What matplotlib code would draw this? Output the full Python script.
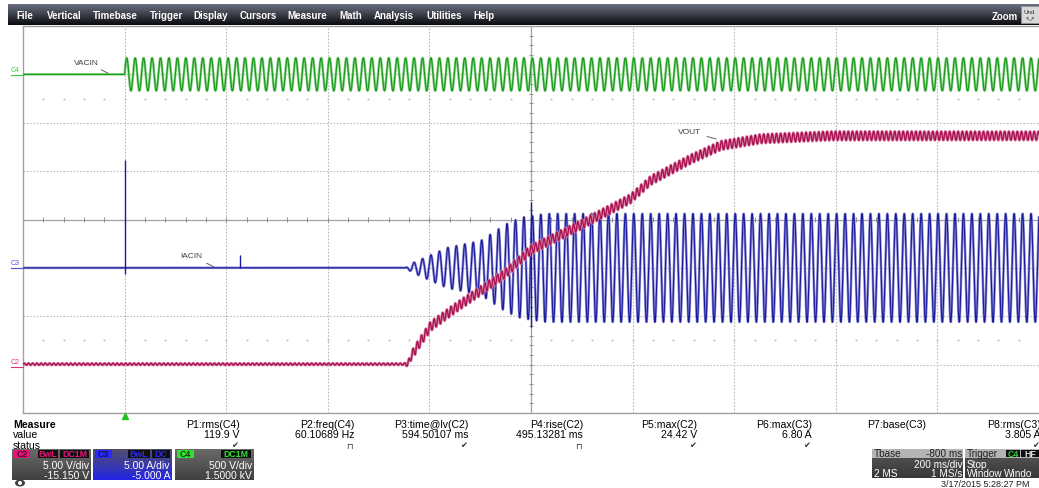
import numpy as np
import matplotlib.pyplot as plt
from matplotlib.colors import LinearSegmentedColormap
from matplotlib.patches import Rectangle, Ellipse

plt.rcParams['font.family'] = ['Liberation Sans', 'DejaVu Sans']

W, H = 1039, 489

# channel setup
c2_vdiv, c2_off = 5.0, -15.15      # VOUT  (V)
c3_vdiv, c3_off = 5.0, -5.0        # IACIN (A)
c4_vdiv, c4_off = 500.0, 1500.0    # VACIN (V)
line_freq = 60.10689               # Hz, P2
vac_rms = 119.9                    # V, P1

# VOUT mean level (s, V), estimated from the trace
vout_t = [-0.2, 0.557, 0.567, 0.602, 0.651, 0.701, 0.750, 0.799, 0.898, 0.996, 1.036, 1.115, 1.174, 1.253, 1.391, 1.8]
vout_v = [0.2, 0.2, 1.3, 4.1, 6.0, 7.8, 9.6, 12.0, 14.6, 17.3, 19.2, 21.4, 22.8, 23.5, 23.8, 23.8]
# VOUT 120 Hz ripple (s, V peak)
rip_t = [-0.2, 0.55, 0.57, 1.8]
rip_v = [0.1, 0.1, 0.5, 0.45]

# IACIN peak envelope (s, A)
iac_t = [-0.2, 0.553, 0.567, 0.636, 0.701, 0.750, 0.780, 0.829, 1.8]
iac_a = [0.0, 0.0, 0.5, 2.1, 2.8, 4.5, 5.2, 5.6, 5.6]
# IACIN spikes (s, low A, high A)
spike_t = [0.0, 0.228, 0.8]
spike_lo = [-0.6, 0.0, -6.1]
spike_hi = [11.2, 1.3, 6.8]

menu_items = ['File', 'Vertical', 'Timebase', 'Trigger', 'Display', 'Cursors',
              'Measure', 'Math', 'Analysis', 'Utilities', 'Help']
menu_x = [16, 47, 93, 150, 193, 240, 287, 339, 374, 426, 473]

meas_names = ['P1:rms(C4)', 'P2:freq(C4)', 'P3:time@lv(C2)', 'P4:rise(C2)',
              'P5:max(C2)', 'P6:max(C3)', 'P7:base(C3)', 'P8:rms(C3)']
meas_vals = ['119.9 V', '60.10689 Hz', '594.50107 ms', '495.13281 ms',
             '24.42 V', '6.80 A', '', '3.805 A']
meas_stat = ['ok', 'pulse', 'ok', 'pulse', 'ok', 'ok', '', 'ok']

# colours
GREEN, GREEN_L = '#159a15', '#86d086'
BLUE, BLUE_L = '#1a1aa0', '#8a8ad0'
RED, RED_L = '#a8104e', '#d880a8'


def fx(x):
    return x / W


def fy(y):
    return 1 - y / H


fig = plt.figure(figsize=(W / 100, H / 100), dpi=100)
fig.patch.set_facecolor('white')

# ---- scope grid ----
ax = fig.add_axes([fx(23), fy(414), fx(1039) - fx(23), fy(27) - fy(414)])
ax.set_xlim(-0.2, 1.8)
ax.set_ylim(-4, 4)
ax.set_xticks([])
ax.set_yticks([])
for s in ['left', 'top', 'bottom']:
    ax.spines[s].set_color('#a0a0a0')
    ax.spines[s].set_linewidth(1.0)
ax.spines['right'].set_visible(False)

gx = np.arange(-0.2, 1.81, 0.2)
for x in gx[1:-1]:
    if abs(x - 0.8) < 1e-6:
        ax.axvline(x, color='#a0a0a0', lw=0.9, zorder=1)
    else:
        ax.axvline(x, color='#b8b8b8', lw=0.8, ls=(0, (1.5, 1.5)), zorder=1)
for y in range(-3, 4):
    if y == 0:
        ax.axhline(y, color='#a0a0a0', lw=0.9, zorder=1)
    else:
        ax.axhline(y, color='#c0c0c0', lw=0.8, ls=(0, (1.5, 1.5)), zorder=1)
# minor ticks on the centre cross
mt = np.arange(-0.2, 1.8001, 0.04)
ax.vlines(mt, -0.06, 0.06, color='#909090', lw=0.7, zorder=1)
my = np.arange(-4, 4.001, 0.2)
ax.hlines(my, 0.8 - 0.004, 0.8 + 0.004, color='#909090', lw=0.7, zorder=1)
# sparse dot rows
for yy in [2.5, -2.5]:
    ax.plot(mt[1:-1], np.full(len(mt) - 2, yy), ls='none', marker='s', ms=0.5,
            color='#c4c4c4', zorder=1)

# ---- traces ----
t = np.linspace(-0.2, 1.8, 60001)
ph = 2 * np.pi * line_freq * t

vac = np.where(t >= 0, np.sqrt(2) * vac_rms * np.sin(ph), 0.0)
y4 = (vac + c4_off) / c4_vdiv
ax.plot(t, y4, color=GREEN_L, lw=1.8, zorder=3)
ax.plot(t, y4, color=GREEN, lw=0.8, zorder=3)

iac = np.interp(t, iac_t, iac_a) * np.sin(ph)
y3 = (iac + c3_off) / c3_vdiv
ax.plot(t, y3, color=BLUE_L, lw=1.8, zorder=4)
ax.plot(t, y3, color=BLUE, lw=0.8, zorder=4)
ax.vlines(spike_t, (np.array(spike_lo) + c3_off) / c3_vdiv,
          (np.array(spike_hi) + c3_off) / c3_vdiv, color=BLUE, lw=1.0, zorder=4)

vout = np.interp(t, vout_t, vout_v) + np.interp(t, rip_t, rip_v) * np.sin(2 * ph)
y2 = (vout + c2_off) / c2_vdiv
ax.plot(t, y2, color=RED_L, lw=2.0, zorder=5)
ax.plot(t, y2, color=RED, lw=0.9, zorder=5)

# trigger marker
ax.plot([0], [-4.06], marker='^', ms=5, color='#20c020', clip_on=False, zorder=6)

# trace labels
lab = dict(fontsize=6, color='#404040', zorder=7)
arr = dict(arrowstyle='-', color='#606060', lw=0.7)
ax.annotate('VACIN', xy=(-0.028, c4_off / c4_vdiv), xytext=(-0.1, 3.22),
            arrowprops=arr, **lab)
ax.annotate('IACIN', xy=(0.18, c3_off / c3_vdiv), xytext=(0.11, -0.78),
            arrowprops=arr, **lab)
ax.annotate('VOUT', xy=(1.17, (23.4 + c2_off) / c2_vdiv), xytext=(1.09, 1.78),
            arrowprops=arr, **lab)

# channel markers at left
for name, lvl, col in [('C4', c4_off / c4_vdiv, '#30d030'),
                       ('C3', c3_off / c3_vdiv, '#5050e0'),
                       ('C2', (0 + c2_off) / c2_vdiv, '#e03080')]:
    yy = fy(221 - lvl * 48.4)
    fig.text(fx(11), yy + 0.004, name, fontsize=5, color=col, va='bottom')
    fig.add_artist(plt.Line2D([fx(11), fx(23)], [yy, yy], color=col, lw=0.8))


# ---- helpers for panels ----
def grad(x0, y0, w, h, c_top, c_bot):
    a = fig.add_axes([fx(x0), fy(y0 + h), w / W, h / H])
    cm = LinearSegmentedColormap.from_list('g', [c_bot, c_top])
    a.imshow(np.linspace(0, 1, 64).reshape(-1, 1)[::-1], cmap=cm, aspect='auto',
             extent=[0, 1, 0, 1], origin='upper')
    a.set_axis_off()
    return a


def tag(x0, y0, w, h, fc, txt, tc, ha='center'):
    fig.add_artist(Rectangle((fx(x0), fy(y0 + h)), w / W, h / H, fc=fc, ec='none',
                             transform=fig.transFigure))
    fig.text(fx(x0 + w / 2), fy(y0 + h / 2), txt, fontsize=6.3, color=tc,
             ha=ha, va='center', fontweight='bold')


# ---- menu bar ----
grad(8, 5, 1031, 21, '#6a7080', '#0c0c10')
for name, x in zip(menu_items, menu_x):
    fig.text(fx(x), fy(16), name, fontsize=7.0, color='white', va='center',
             fontweight='bold')
fig.text(fx(992), fy(16.5), 'Zoom', fontsize=7.0, color='white', va='center',
         fontweight='bold')
fig.add_artist(Rectangle((fx(1021), fy(24)), 18 / W, 17 / H, fc='#d8d8d8',
                         ec='#909090', lw=0.6, transform=fig.transFigure))
fig.text(fx(1023), fy(13), 'Und', fontsize=4.5, color='#303030', va='center')
fig.text(fx(1025), fy(19.5), '↖↗', fontsize=4, color='#303030', va='center')

# ---- measurement table ----
fs = 7.6
fig.text(fx(13), fy(425), 'Measure', fontsize=fs, fontweight='bold', va='center')
fig.text(fx(13), fy(435.5), 'value', fontsize=fs, va='center')
fig.text(fx(13), fy(446), 'status', fontsize=fs, va='center')
for k, (nm, vl, st) in enumerate(zip(meas_names, meas_vals, meas_stat)):
    xr = 240 + 114.4 * k
    fig.text(fx(xr), fy(425), nm, fontsize=fs, ha='right', va='center')
    fig.text(fx(xr), fy(435.5), vl, fontsize=fs, ha='right', va='center')
    if st == 'ok':
        fig.text(fx(xr - 5), fy(446), '✔', fontsize=6, ha='center', va='center',
                 color='#303030', family='DejaVu Sans')
    elif st == 'pulse':
        fig.text(fx(xr - 5), fy(446), '⊓', fontsize=6, ha='center', va='center',
                 color='#303030', family='DejaVu Sans')

# ---- channel boxes ----
boxes = [
    (12, 'C2', '#e8107a', '#40102a', [('BwL', 38, 20), ('DC1M', 60, 29)],
     '5.00 V/div', '-15.150 V', ('#6a6a6a', '#404040')),
    (93, 'C3', '#2828ff', '#101050', [('BwL', 128, 22), ('DC', 152, 18)],
     '5.00 A/div', '-5.000 A', ('#505068', '#2424e8')),
    (175, 'C4', '#30e030', '#104010', [('DC1M', 221, 30)],
     '500 V/div', '1.5000 kV', ('#6a6a6a', '#404040')),
]
for x0, nm, col, dark, tags, l1, l2, gc in boxes:
    grad(x0, 450, 79, 31, gc[0], gc[1])
    tag(x0 + 1.5, 451, 17, 8, col, nm, dark)
    for tx, tx0, tw in tags:
        tag(tx0, 451, tw, 8, '#101010', tx, col)
    fig.text(fx(x0 + 77), fy(466), l1, fontsize=7.5, color='white', ha='right', va='center')
    fig.text(fx(x0 + 77), fy(476), l2, fontsize=7.5, color='white', ha='right', va='center')

# ---- timebase / trigger boxes ----
grad(872, 450, 91, 29, '#585858', '#383838')
fig.add_artist(Rectangle((fx(872), fy(458.5)), 91 / W, 8.5 / H, fc='#b4b4b4', ec='none',
                         transform=fig.transFigure))
fig.text(fx(874), fy(454.5), 'Tbase', fontsize=7.2, color='#202020', va='center')
fig.text(fx(962), fy(454.5), '-800 ms', fontsize=7.2, color='#202020', va='center', ha='right')
fig.text(fx(962), fy(465), '200 ms/div', fontsize=7.2, color='white', va='center', ha='right')
fig.text(fx(874), fy(474.5), '2 MS', fontsize=7.2, color='white', va='center')
fig.text(fx(962), fy(474.5), '1 MS/s', fontsize=7.2, color='white', va='center', ha='right')

grad(965, 450, 74, 29, '#585858', '#383838')
fig.add_artist(Rectangle((fx(965), fy(458.5)), 74 / W, 8.5 / H, fc='#b4b4b4', ec='none',
                         transform=fig.transFigure))
fig.text(fx(967), fy(454.5), 'Trigger', fontsize=7.2, color='#202020', va='center')
tag(1006, 451, 14, 7, '#101010', 'C4', '#30d030')
tag(1021, 451, 18, 7, '#101010', 'HF', '#e0e0e0')
fig.text(fx(967), fy(465), 'Stop', fontsize=7.2, color='white', va='center')
fig.text(fx(967), fy(474.5), 'Window', fontsize=7.2, color='white', va='center')
fig.text(fx(1004), fy(474.5), 'Windo', fontsize=7.2, color='white', va='center')

fig.text(fx(985), fy(485), '3/17/2015 5:28:27 PM', fontsize=6.5, color='#202020',
         ha='center', va='center')

# eye icon
fig.add_artist(Ellipse((fx(20), fy(484)), 10 / W, 7 / H, fc='#404040', ec='none',
                       transform=fig.transFigure))
fig.add_artist(Ellipse((fx(20), fy(484)), 4 / W, 4 / H, fc='white', ec='none',
                       transform=fig.transFigure))

fig.savefig('out.png', dpi=100)
